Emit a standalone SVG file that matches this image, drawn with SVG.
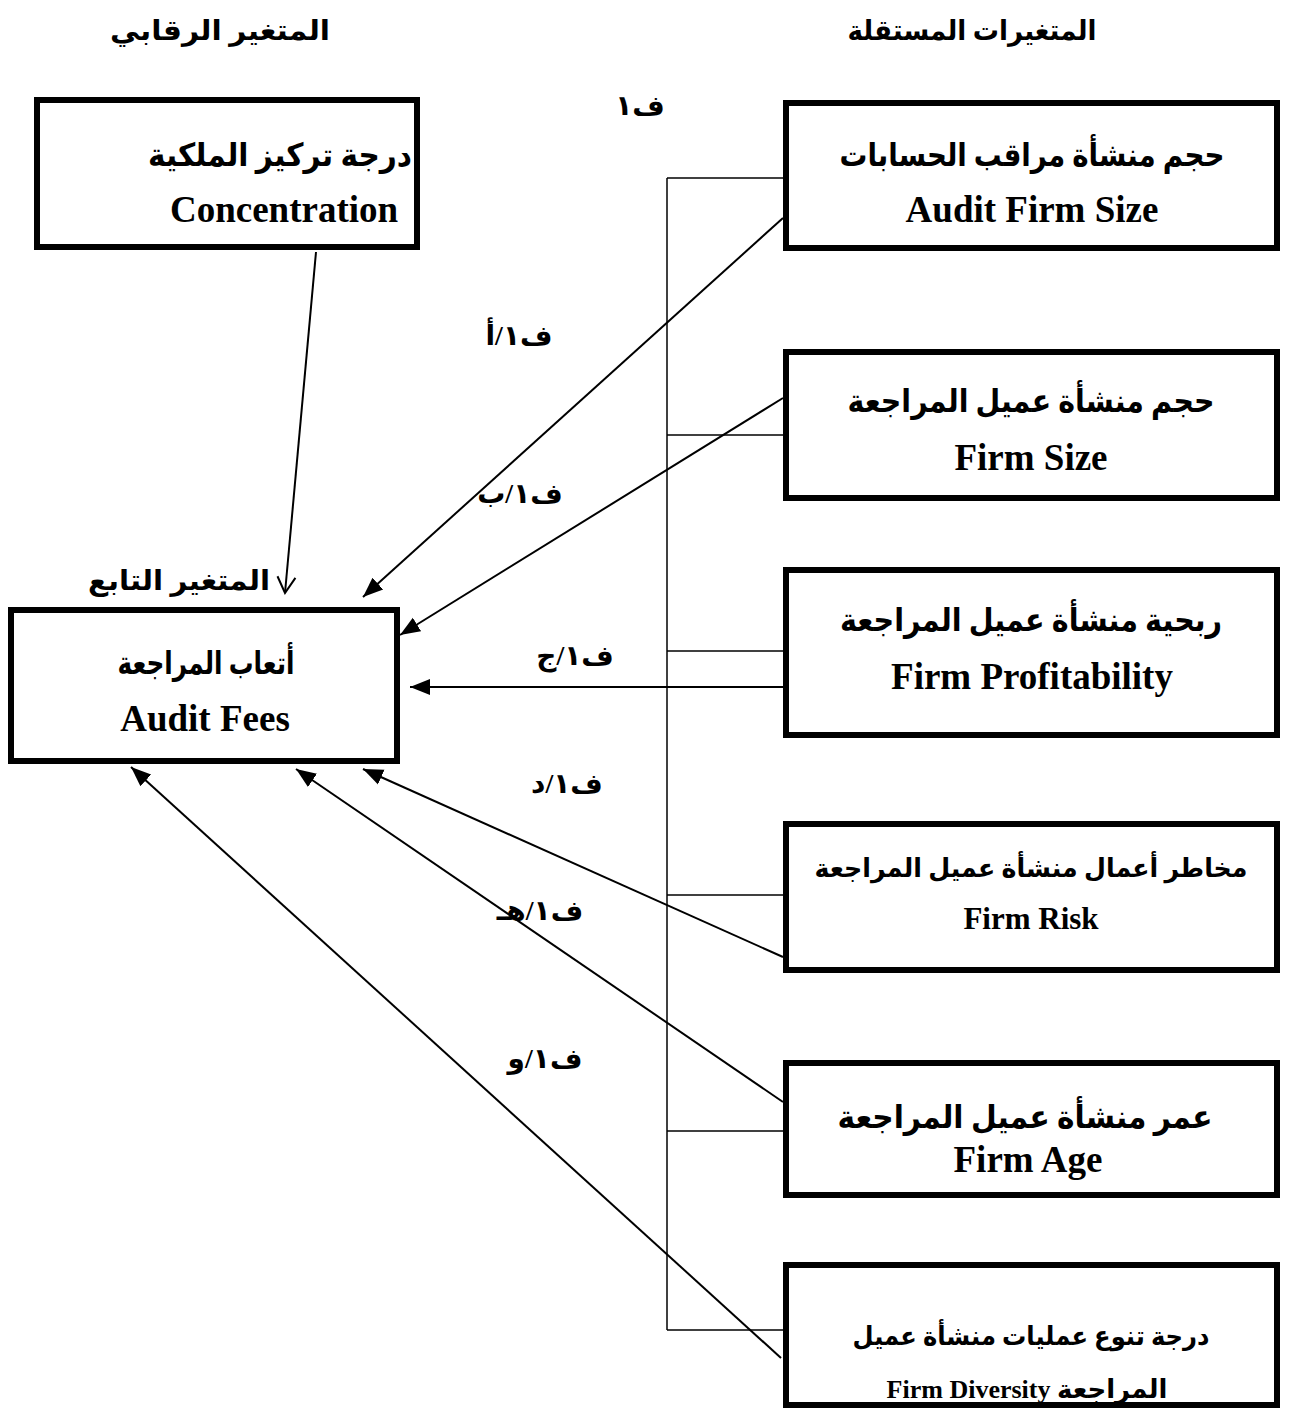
<svg xmlns="http://www.w3.org/2000/svg" width="1293" height="1410" viewBox="0 0 1293 1410">
<style>
text{font-family:"Liberation Serif","DejaVu Sans",serif;font-weight:bold;fill:#000;text-anchor:middle}
.ar{direction:rtl;unicode-bidi:embed}
.box{fill:#fff;stroke:#000;stroke-width:6}
.big{font-size:37px}
.arb{font-size:32px}
.sm{font-size:26px}
.lbl{font-size:28px}
.hd{font-size:28px}
.con{stroke:#000;stroke-width:2;fill:none}
.brk{stroke:#000;stroke-width:1.5;fill:none}
</style>
<defs>
<marker id="ah" markerUnits="userSpaceOnUse" markerWidth="22" markerHeight="18" refX="20" refY="9" orient="auto">
<path d="M0,1 L20,9 L0,17 z" fill="#000"/>
</marker>
<marker id="ov" markerUnits="userSpaceOnUse" markerWidth="22" markerHeight="22" refX="18" refY="11" orient="auto">
<path d="M2,2 L18,11 L2,20" fill="none" stroke="#000" stroke-width="2"/>
</marker>
</defs>
<rect width="1293" height="1410" fill="#fff"/>

<g id="headers">
<text class="hd ar" x="220" y="40" textLength="220" lengthAdjust="spacingAndGlyphs">المتغير الرقابي</text>
<text class="hd ar" x="972" y="40" textLength="249" lengthAdjust="spacingAndGlyphs">المتغيرات المستقلة</text>
<text class="lbl ar" x="640" y="115">ف١</text>
<text class="hd ar" x="179" y="590" textLength="182" lengthAdjust="spacingAndGlyphs">المتغير التابع</text>
</g>

<g id="connectors">
<line class="brk" x1="667" y1="178" x2="667" y2="1330"/>
<line class="brk" x1="667" y1="178" x2="783" y2="178"/>
<line class="brk" x1="667" y1="435" x2="783" y2="435"/>
<line class="brk" x1="667" y1="651" x2="783" y2="651"/>
<line class="brk" x1="667" y1="895" x2="783" y2="895"/>
<line class="brk" x1="667" y1="1131" x2="783" y2="1131"/>
<line class="brk" x1="667" y1="1330" x2="783" y2="1330"/>
<line class="con" x1="316" y1="252" x2="285" y2="593" marker-end="url(#ov)"/>
<line class="con" x1="783" y1="218" x2="363" y2="597" marker-end="url(#ah)"/>
<line class="con" x1="783" y1="398" x2="400" y2="635" marker-end="url(#ah)"/>
<line class="con" x1="783" y1="687" x2="410" y2="687" marker-end="url(#ah)"/>
<line class="con" x1="783" y1="957" x2="363" y2="769" marker-end="url(#ah)"/>
<line class="con" x1="783" y1="1102" x2="296" y2="769" marker-end="url(#ah)"/>
<line class="con" x1="781" y1="1358" x2="131" y2="767" marker-end="url(#ah)"/>
<text class="lbl ar" x="519" y="345">ف١/أ</text>
<text class="lbl ar" x="520" y="503">ف١/ب</text>
<text class="lbl ar" x="575" y="665">ف١/ج</text>
<text class="lbl ar" x="567" y="793">ف١/د</text>
<text class="lbl ar" x="540" y="920">ف١/هـ</text>
<text class="lbl ar" x="545" y="1068">ف١/و</text>
</g>

<g id="node-concentration">
<rect class="box" x="37" y="100" width="380" height="147"/>
<text class="arb ar" x="280" y="166" textLength="264" lengthAdjust="spacingAndGlyphs">درجة تركيز الملكية</text>
<text class="big" x="284" y="222">Concentration</text>
</g>

<g id="node-audit-fees">
<rect class="box" x="11" y="610" width="386" height="151"/>
<text class="arb ar" x="206" y="674" textLength="177" lengthAdjust="spacingAndGlyphs">أتعاب المراجعة</text>
<text class="big" x="205" y="731">Audit Fees</text>
</g>

<g id="node-audit-firm-size">
<rect class="box" x="786" y="103" width="491" height="145"/>
<text class="arb ar" x="1032" y="166" textLength="385" lengthAdjust="spacingAndGlyphs">حجم منشأة مراقب الحسابات</text>
<text class="big" x="1032" y="222">Audit Firm Size</text>
</g>

<g id="node-firm-size">
<rect class="box" x="786" y="352" width="491" height="146"/>
<text class="arb ar" x="1031" y="412" textLength="367" lengthAdjust="spacingAndGlyphs">حجم منشأة عميل المراجعة</text>
<text class="big" x="1031" y="470">Firm Size</text>
</g>

<g id="node-firm-profitability">
<rect class="box" x="786" y="570" width="491" height="165"/>
<text class="arb ar" x="1031" y="631" textLength="382" lengthAdjust="spacingAndGlyphs">ربحية منشأة عميل المراجعة</text>
<text class="big" x="1032" y="689">Firm Profitability</text>
</g>

<g id="node-firm-risk">
<rect class="box" x="786" y="824" width="491" height="146"/>
<text class="sm ar" x="1031" y="877" textLength="433" lengthAdjust="spacingAndGlyphs">مخاطر أعمال منشأة عميل المراجعة</text>
<text class="big" style="font-size:31px" x="1031" y="929">Firm Risk</text>
</g>

<g id="node-firm-age">
<rect class="box" x="786" y="1063" width="491" height="132"/>
<text class="arb ar" x="1025" y="1128" textLength="375" lengthAdjust="spacingAndGlyphs">عمر منشأة عميل المراجعة</text>
<text class="big" x="1028" y="1172">Firm Age</text>
</g>

<g id="node-firm-diversity">
<rect class="box" x="786" y="1265" width="491" height="140"/>
<text class="sm ar" x="1031" y="1345" textLength="357" lengthAdjust="spacingAndGlyphs">درجة تنوع عمليات منشأة عميل</text>
<text class="sm ar" x="1027" y="1398">المراجعة Firm Diversity</text>
</g>
</svg>
